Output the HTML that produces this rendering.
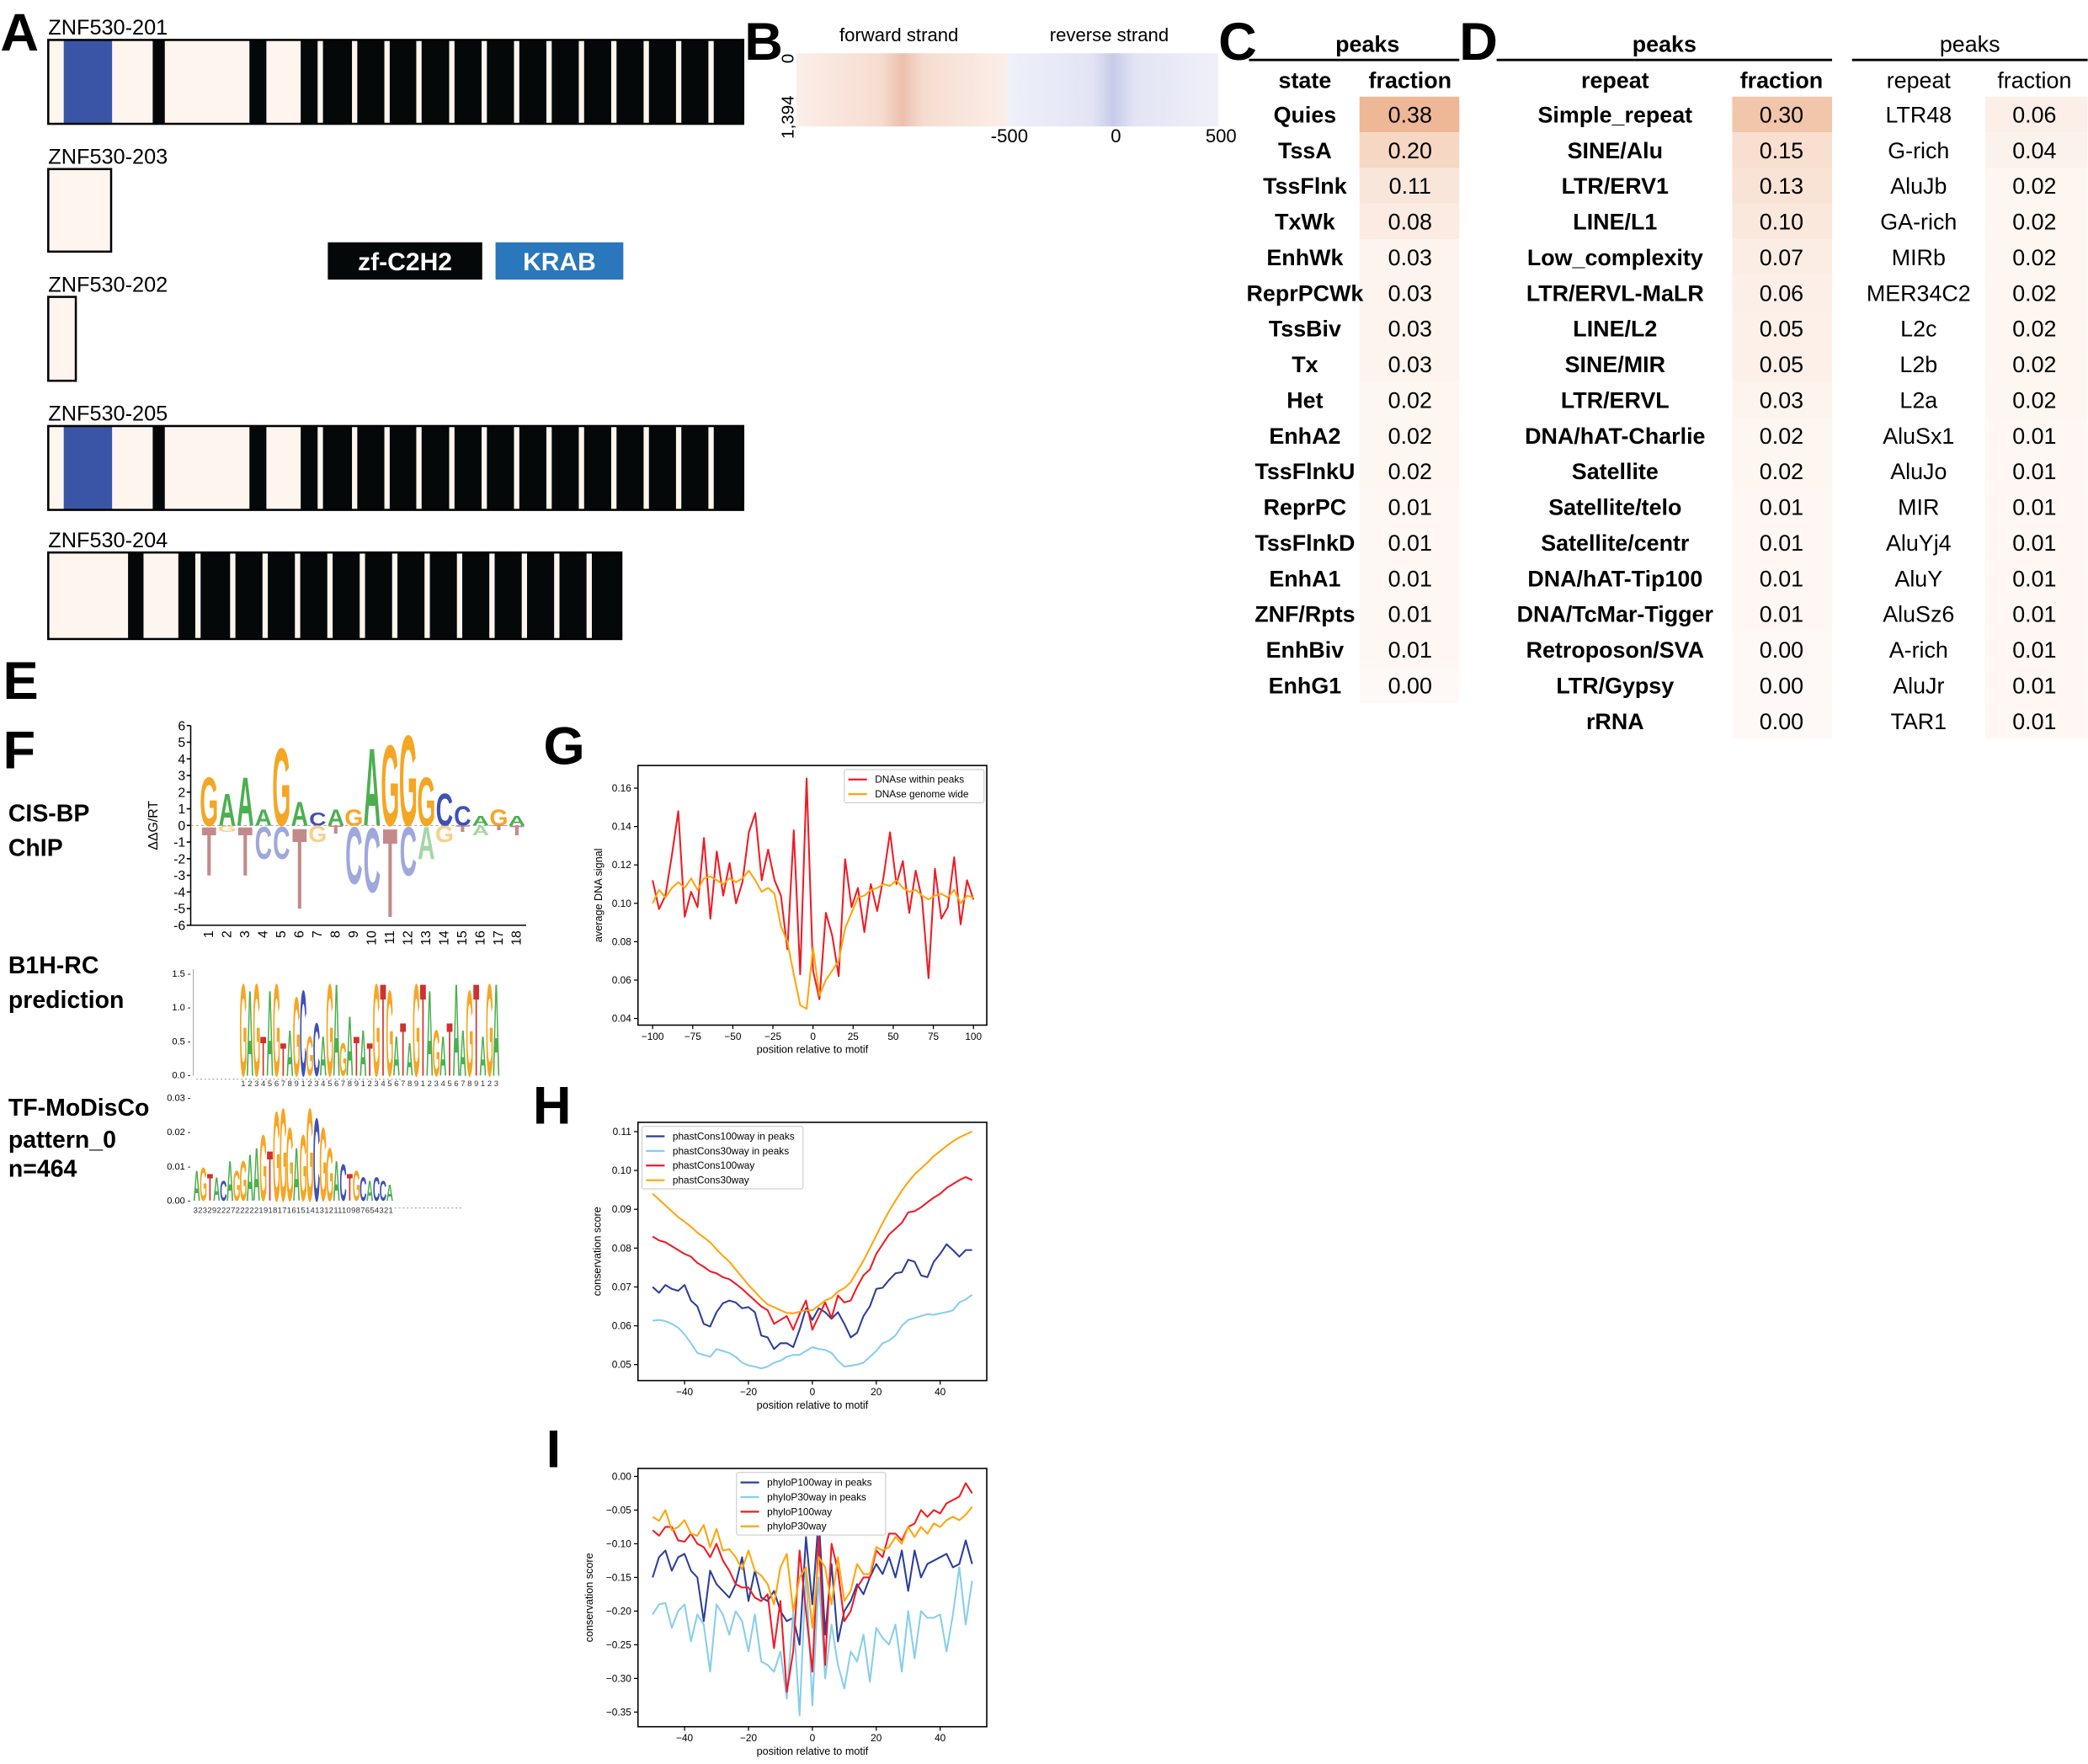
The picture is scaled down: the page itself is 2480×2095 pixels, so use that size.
<!DOCTYPE html>
<html><head><meta charset="utf-8">
<style>
html,body{margin:0;padding:0;background:#fff;}
svg{display:block;font-family:"Liberation Sans","DejaVu Sans",sans-serif;}
</style></head>
<body>
<svg id="fig" width="2480" height="2095" viewBox="0 0 1568 1325" xmlns="http://www.w3.org/2000/svg">
<rect width="1568" height="1325" fill="#fff"/>
<g font-weight="bold" font-size="40" fill="#000">
<text x="0" y="38">A</text><text x="559" y="45">B</text><text x="915" y="45">C</text><text x="1096" y="45">D</text>
<text x="2" y="525">E</text><text x="2" y="577">F</text><text x="408" y="574">G</text><text x="400" y="844">H</text><text x="410" y="1102">I</text>
</g>
<g>
<rect x="246" y="182" width="116" height="28" fill="#050808"/>
<text x="304" y="203" fill="#fff" font-size="19" font-weight="bold" text-anchor="middle">zf-C2H2</text>
<rect x="372" y="182" width="96" height="28" fill="#2a77bb"/>
<text x="420" y="203" fill="#fff" font-size="19" font-weight="bold" text-anchor="middle">KRAB</text>
</g>
<g>
<defs>
<linearGradient id="gf" x1="0" x2="1"><stop offset="0" stop-color="#fbeee8"/><stop offset="0.4" stop-color="#f6dcd0"/><stop offset="0.5" stop-color="#ecc0ac"/><stop offset="0.6" stop-color="#f6dcd0"/><stop offset="1" stop-color="#fbefe9"/></linearGradient>
<linearGradient id="gr" x1="0" x2="1"><stop offset="0" stop-color="#eef0fa"/><stop offset="0.4" stop-color="#e2e4f4"/><stop offset="0.5" stop-color="#c8cbe8"/><stop offset="0.6" stop-color="#e2e4f4"/><stop offset="1" stop-color="#eff0f9"/></linearGradient>
</defs>
<rect x="598" y="40" width="159" height="55" fill="url(#gf)"/>
<rect x="757" y="40" width="158" height="55" fill="url(#gr)"/>
<text x="675" y="31" font-size="14" text-anchor="middle">forward strand</text>
<text x="833" y="31" font-size="14" text-anchor="middle">reverse strand</text>
<text x="758" y="107" font-size="14" text-anchor="middle">-500</text>
<text x="838" y="107" font-size="14" text-anchor="middle">0</text>
<text x="917" y="107" font-size="14" text-anchor="middle">500</text>
<text transform="translate(596,44) rotate(-90)" font-size="13" text-anchor="middle">0</text>
<text transform="translate(596,88) rotate(-90)" font-size="13" text-anchor="middle">1,394</text>
</g>
<g font-weight="bold" font-size="18">
<text x="6" y="617">CIS-BP</text><text x="6" y="643">ChIP</text>
<text x="6" y="731">B1H-RC</text><text x="6" y="757">prediction</text>
<text x="6" y="838">TF-MoDisCo</text><text x="6" y="862">pattern_0</text><text x="6" y="884">n=464</text>
</g>
<g id="layer"></g>
</svg>
<script>
// ---------- Panel A transcripts (segment boundaries in relative units) ----------
var txNames = ['ZNF530-201','ZNF530-203','ZNF530-202','ZNF530-205','ZNF530-204'];
var txStart = [100,100,100,100,100];
var txEnd = [1537,230,157,1537,1285];
var txTop = [30,127,223,320,415];
var txBottom = [93,189,286,383,480];
var txBlue = [[132,232],[],[],[132,232],[]];
var txBlack = [[[316,341],[516,551],[622,1537]],[],[],[[316,341],[516,551],[622,1537]],[[265,297],[369,1285]]];
var txStripes = [[657,728,795,861,929,996,1063,1130,1197,1264,1331,1398,1465],[],[],[657,728,795,861,929,996,1063,1130,1197,1264,1331,1398,1465],[404,476,543,610,677,744,811,878,945,1012,1079,1146,1213]];

// ---------- Tables C/D ----------
var cStates = ['Quies','TssA','TssFlnk','TxWk','EnhWk','ReprPCWk','TssBiv','Tx','Het','EnhA2','TssFlnkU','ReprPC','TssFlnkD','EnhA1','ZNF/Rpts','EnhBiv','EnhG1'];
var cFrac = [0.38,0.20,0.11,0.08,0.03,0.03,0.03,0.03,0.02,0.02,0.02,0.01,0.01,0.01,0.01,0.01,0.00];
var dRepeats = ['Simple_repeat','SINE/Alu','LTR/ERV1','LINE/L1','Low_complexity','LTR/ERVL-MaLR','LINE/L2','SINE/MIR','LTR/ERVL','DNA/hAT-Charlie','Satellite','Satellite/telo','Satellite/centr','DNA/hAT-Tip100','DNA/TcMar-Tigger','Retroposon/SVA','LTR/Gypsy','rRNA'];
var dFrac = [0.30,0.15,0.13,0.10,0.07,0.06,0.05,0.05,0.03,0.02,0.02,0.01,0.01,0.01,0.01,0.00,0.00,0.00];
var eRepeats = ['LTR48','G-rich','AluJb','GA-rich','MIRb','MER34C2','L2c','L2b','L2a','AluSx1','AluJo','MIR','AluYj4','AluY','AluSz6','A-rich','AluJr','TAR1'];
var eFrac = [0.06,0.04,0.02,0.02,0.02,0.02,0.02,0.02,0.02,0.01,0.01,0.01,0.01,0.01,0.01,0.01,0.01,0.01];

// ---------- Panel F logos ----------
var cisPos = ['1','2','3','4','5','6','7','8','9','10','11','12','13','14','15','16','17','18'];
var cisTopL = ['G','A','A','A','G','A','C','A','G','A','G','G','G','C','C','A','G','A'];
var cisTopH = [3,2,3,1,4.8,1.5,0.8,1,1,4.8,5,5.6,3,2,1.2,0.6,1,0.6];
var cisBotL = ['T','G','T','C','C','T','G','T','C','C','T','C','A','G','T','A','T','T'];
var cisBotH = [3,0.4,3,2,2,5,1,0.5,3.5,4,5.5,3,2,1,0.4,0.6,0.3,0.6];
var b1hL = ['G','A','G','T','A','G','T','A','G','C','G','C','A','G','A','G','A','T','A','T','G','T','G','A','T','A','G','T','A','G','A','T','A','A','G','T','A','G','A'];
var b1hH = [1.4,1.3,1.4,0.6,1.3,1.4,0.5,0.7,1.2,1.3,0.6,0.8,0.6,1.4,1.4,0.5,0.9,0.6,0.7,0.5,1.4,1.4,1.3,0.6,0.8,0.5,1.4,1.4,1.3,0.7,0.6,0.8,1.4,0.7,1.3,1.4,0.6,1.4,1.4];
var modL = ['A','G','T','A','C','A','G','G','A','A','G','T','G','G','G','A','G','G','C','G','G','A','C','T','G','C','A','C','C','A'];
var modH = [0.009,0.01,0.008,0.007,0.006,0.012,0.009,0.012,0.014,0.016,0.02,0.015,0.027,0.028,0.022,0.016,0.02,0.028,0.025,0.022,0.016,0.012,0.011,0.008,0.009,0.007,0.006,0.007,0.006,0.005];

// ---------- Panel G ----------
var gX = [-100,-96,-92,-88,-84,-80,-76,-72,-68,-64,-60,-56,-52,-48,-44,-40,-36,-32,-28,-24,-20,-16,-12,-8,-4,0,4,8,12,16,20,24,28,32,36,40,44,48,52,56,60,64,68,72,76,80,84,88,92,96,100];
var gPeaks = [.112,.097,.104,.125,.148,.093,.106,.098,.134,.092,.127,.104,.121,.100,.111,.137,.147,.112,.128,.112,.104,.076,.138,.063,.165,.065,.050,.095,.083,.062,.123,.098,.108,.085,.110,.096,.114,.137,.110,.122,.095,.117,.102,.061,.118,.092,.098,.124,.089,.112,.102];
var gGenome = [.100,.107,.103,.108,.111,.108,.113,.107,.113,.114,.112,.110,.113,.111,.113,.117,.112,.106,.108,.105,.088,.080,.063,.047,.045,.077,.052,.060,.065,.070,.087,.095,.103,.104,.107,.108,.110,.109,.112,.108,.106,.107,.104,.102,.104,.105,.103,.107,.100,.104,.103];
var gYTicks = [0.04,0.06,0.08,0.10,0.12,0.14,0.16];
var gXTicks = [-100,-75,-50,-25,0,25,50,75,100];

// ---------- Panel H / I positions ----------
var hX = [-50,-48,-46,-44,-42,-40,-38,-36,-34,-32,-30,-28,-26,-24,-22,-20,-18,-16,-14,-12,-10,-8,-6,-4,-2,0,2,4,6,8,10,12,14,16,18,20,22,24,26,28,30,32,34,36,38,40,42,44,46,48,50];
var hPc100Peaks = [.070,.0685,.0705,.0695,.069,.0705,.0665,.065,.0605,.0598,.0635,.0658,.0665,.066,.0645,.0648,.0635,.0575,.057,.054,.0555,.0555,.0545,.059,.0645,.0615,.0645,.0635,.0618,.0635,.0605,.057,.0582,.0625,.065,.0695,.0698,.0718,.0735,.0738,.077,.0765,.073,.0725,.0765,.0785,.081,.0795,.0778,.0795,.0795];
var hPc30Peaks = [.0613,.0615,.0612,.0605,.0595,.0578,.0555,.053,.0525,.052,.054,.0535,.053,.052,.0505,.0498,.0495,.049,.0495,.0505,.051,.052,.0525,.0525,.0535,.0545,.054,.0538,.053,.051,.0495,.0497,.050,.0505,.052,.0535,.0555,.0562,.0575,.060,.0615,.062,.0625,.063,.0628,.0632,.0635,.064,.066,.0668,.068];
var hPc100 = [.083,.082,.0815,.0805,.0795,.0785,.0778,.0762,.0752,.074,.0735,.0725,.072,.0708,.0695,.068,.0665,.065,.064,.0605,.0615,.0625,.059,.063,.0665,.059,.0625,.066,.062,.0678,.066,.0665,.070,.073,.0745,.0785,.081,.0835,.085,.0865,.0892,.0895,.0905,.0918,.093,.094,.0955,.0965,.0975,.0983,.0975];
var hPc30 = [.094,.0925,.091,.0895,.088,.0868,.0855,.084,.0828,.0815,.0797,.078,.0765,.0745,.0725,.0705,.0688,.067,.0655,.0648,.064,.0633,.0632,.0636,.064,.064,.0652,.0665,.0672,.0688,.0697,.0712,.074,.0768,.080,.0832,.0865,.0895,.0922,.0948,.097,.099,.1005,.102,.1037,.105,.1063,.1075,.1085,.1093,.110];
var hYTicks = [0.05,0.06,0.07,0.08,0.09,0.10,0.11];
var hXTicks = [-40,-20,0,20,40];
var iP100Peaks = [-.15,-.12,-.11,-.14,-.12,-.115,-.14,-.15,-.215,-.14,-.16,-.17,-.18,-.16,-.12,-.185,-.14,-.18,-.185,-.17,-.2,-.215,-.21,-.25,-.09,-.19,-.06,-.235,-.13,-.245,-.2,-.185,-.16,-.175,-.15,-.13,-.145,-.12,-.15,-.11,-.17,-.11,-.15,-.13,-.125,-.12,-.115,-.135,-.13,-.095,-.13];
var iP30Peaks = [-.205,-.19,-.188,-.225,-.2,-.19,-.245,-.205,-.22,-.29,-.19,-.205,-.235,-.2,-.215,-.26,-.205,-.275,-.28,-.29,-.26,-.33,-.2,-.355,-.14,-.34,-.15,-.3,-.22,-.28,-.315,-.26,-.275,-.235,-.305,-.225,-.24,-.25,-.22,-.29,-.2,-.27,-.2,-.21,-.21,-.205,-.26,-.205,-.135,-.22,-.155];
var iP100 = [-.08,-.088,-.075,-.075,-.095,-.097,-.085,-.1,-.105,-.12,-.1,-.125,-.14,-.16,-.165,-.165,-.18,-.185,-.175,-.255,-.185,-.32,-.26,-.11,-.2,-.29,-.09,-.28,-.1,-.14,-.215,-.2,-.165,-.15,-.15,-.11,-.12,-.085,-.085,-.095,-.075,-.07,-.05,-.06,-.05,-.055,-.04,-.035,-.03,-.01,-.025];
var iP30 = [-.06,-.066,-.05,-.08,-.075,-.065,-.085,-.088,-.072,-.105,-.078,-.11,-.108,-.12,-.138,-.11,-.14,-.147,-.16,-.19,-.135,-.115,-.2,-.15,-.135,-.225,-.12,-.135,-.19,-.12,-.185,-.17,-.13,-.145,-.145,-.105,-.11,-.105,-.09,-.1,-.075,-.09,-.075,-.085,-.07,-.075,-.065,-.06,-.065,-.057,-.045];
var iYTicks = [0,-0.05,-0.10,-0.15,-0.20,-0.25,-0.30,-0.35];

var NS = 'http://www.w3.org/2000/svg';
var layer = document.getElementById('layer');
function mk(tag, attrs, parent){var e=document.createElementNS(NS,tag);for(var k in attrs)e.setAttribute(k,attrs[k]);(parent||layer).appendChild(e);return e;}
function txt(s, attrs, parent){var e=mk('text',attrs,parent);e.textContent=s;return e;}
function fmtMinus(s){return String(s).replace('-','\u2212');}

// ---- Panel A ----
var LIGHT='#fff5ef';
for (var t=0;t<txNames.length;t++){
  var sc=0.3633, x0=36;
  var X=function(z){return x0+(z-100)*sc;};
  var g=mk('g',{});
  
  
  var lab=txt(txNames[t],{x:36,y:txTop[t]-4,'font-size':16},g);
  
  
  var bx=mk('rect',{x:X(txStart[t]),y:txTop[t],width:X(txEnd[t])-X(txStart[t]),height:txBottom[t]-txTop[t],fill:LIGHT},g);
  
  
  for (var b=0;b<txBlue[t].length;b+=2){
    var br=mk('rect',{x:X(txBlue[t][0]),y:txTop[t],width:X(txBlue[t][1])-X(txBlue[t][0]),height:txBottom[t]-txTop[t],fill:'#3b55a6'},g);
    
    
  }
  txBlack[t].forEach(function(s){
    var r=mk('rect',{x:X(s[0]),y:txTop[t],width:X(s[1])-X(s[0]),height:txBottom[t]-txTop[t],fill:'#050808'},g);
    
    
  });
  txStripes[t].forEach(function(s){
    var r=mk('rect',{x:X(s),y:txTop[t],width:11*sc,height:txBottom[t]-txTop[t],fill:LIGHT},g);
    
    
  });
  var ol=mk('rect',{x:X(txStart[t]),y:txTop[t],width:X(txEnd[t])-X(txStart[t]),height:txBottom[t]-txTop[t],fill:'none',stroke:'#000','stroke-width':1.6},g);
  
  
}

// ---- Tables ----
function cellColor(v){var f=Math.min(v/0.38,1);var r=Math.round(254-(254-238)*f),gg=Math.round(249-(249-184)*f),bb=Math.round(246-(246-150)*f);return 'rgb('+r+','+gg+','+bb+')';}
function table(name,labels,vals,lx,cx,cl,cr,ll,lr,head,bold){
  var g=mk('g',{'font-size':17,'font-weight':bold?'bold':'normal'});
  
  
  txt('peaks',{x:(ll+lr)/2+(name==='table-c'?10:0),y:39,'text-anchor':'middle'},g);
  mk('line',{x1:ll,x2:lr,y1:45,y2:45,stroke:'#000','stroke-width':1.8},g);
  txt(head,{x:lx,y:66,'text-anchor':'middle'},g);
  txt('fraction',{x:cx,y:66,'text-anchor':'middle'},g);
  for(var i=0;i<labels.length;i++){
    var yc=86+i*26.8;
    var c=mk('rect',{x:cl,y:yc-13.4,width:cr-cl,height:26.8,fill:cellColor(vals[i])},g);
    
    
    var a=txt(labels[i],{x:lx,y:yc+6,'text-anchor':'middle'},g);
    
    
    var v=txt(vals[i].toFixed(2),{x:cx,y:yc+6,'text-anchor':'middle','font-weight':'normal'},g);
    
    
  }
}
table('table-c',cStates,cFrac,980,1059,1021,1096,938,1096,'state',true);
table('table-d',dRepeats,dFrac,1213,1338,1301,1376,1124,1376,'repeat',true);
table('table-d-right',eRepeats,eFrac,1441,1528,1491,1568,1391,1568,'repeat',false);

// ---- Logos ----
var LC={A:'#4caf50',C:'#3f51b5',G:'#f5a623',T:'#d0312d'};
var LCp={A:'#a5d6a7',C:'#9fa8da',G:'#f9d08a',T:'#c48a8a'};
function letter(g,ch,cx,base,w,h,col){
  if(h<0.5)return;
  var e=txt(ch,{transform:'translate('+cx+','+base+') scale('+(w/7.2)+','+(h/7.2)+')','font-size':10,'font-weight':'bold','text-anchor':'middle',fill:col},g);
  
  
}
(function(){
  var g=mk('g',{});
  
  
  var zero=620,unit=12.5,x0=150,step=13.6;
  mk('line',{x1:143,x2:143,y1:545,y2:695,stroke:'#000','stroke-width':1},g);
  mk('line',{x1:143,x2:395,y1:695,y2:695,stroke:'#000','stroke-width':1},g);
  for(var v=-6;v<=6;v++){mk('line',{x1:140,x2:143,y1:zero-v*unit,y2:zero-v*unit,stroke:'#000'},g);txt(String(v),{x:139,y:zero-v*unit+3.5,'font-size':10,'text-anchor':'end'},g);}
  txt('\u0394\u0394G/RT',{transform:'translate(118,620) rotate(-90)','font-size':10,'text-anchor':'middle'},g);
  mk('line',{x1:143,x2:395,y1:zero,y2:zero,stroke:'#888','stroke-width':0.6,'stroke-dasharray':'2,2'},g);
  for(var i=0;i<cisPos.length;i++){
    var cx=x0+i*step+step/2;
    letter(g,cisTopL[i],cx,zero,step*0.95,cisTopH[i]*unit,LC[cisTopL[i]]);
    letter(g,cisBotL[i],cx,zero+cisBotH[i]*unit,step*0.95,cisBotH[i]*unit,LCp[cisBotL[i]]);
    txt(cisPos[i],{transform:'translate('+(cx+3)+',699) rotate(-90)','font-size':10,'text-anchor':'end'},g);
  }
})();
(function(){
  var g=mk('g',{});
  
  
  var zero=808,unit=51,x0=180,step=5;
  mk('line',{x1:145,x2:145,y1:728,y2:808,stroke:'#999','stroke-width':0.6},g);
  [0,0.5,1.0,1.5].forEach(function(v){txt(v.toFixed(1)+' -',{x:143,y:zero-v*unit+2,'font-size':7,'text-anchor':'end'},g);});
  for(var i=0;i<b1hL.length;i++){
    var cx=x0+i*step+step/2;
    letter(g,b1hL[i],cx,zero,step*1.05,b1hH[i]*unit,LC[b1hL[i]]);
    txt(String((i%9)+1),{x:cx,y:816,'font-size':6,'text-anchor':'middle',fill:'#333'},g);
  }
  txt('- - - - - - - - - - - - - - - - - - - - - - - - - - - - - - - - - - - - - - - - - - - - - - - - - - -',{x:147,y:812,'font-size':5,fill:'#555'},g);
})();
(function(){
  var g=mk('g',{});
  
  
  var zero=902,unit=2567,x0=145,step=5;
  [0,0.01,0.02,0.03].forEach(function(v){txt(v.toFixed(2)+' -',{x:143,y:zero-v*unit+2,'font-size':7,'text-anchor':'end'},g);});
  for(var i=0;i<modL.length;i++){
    var cx=x0+i*step+step/2;
    letter(g,modL[i],cx,zero,step*1.05,modH[i]*unit,LC[modL[i]]);
  }
  txt('3232922272222219181716151413121110987654321',{x:145,y:911,'font-size':6,fill:'#333',textLength:150},g);
  txt('- - - - - - - - - - - - - - - - -',{x:296,y:909,'font-size':5,fill:'#555'},g);
})();

// ---- Line charts ----
function chart(opt){
  var g=mk('g',{});
  
  
  var sx=function(v){return opt.px0+(v-opt.xd[0])/(opt.xd[1]-opt.xd[0])*(opt.px1-opt.px0);};
  var sy=function(v){return opt.py0+(v-opt.yd[0])/(opt.yd[1]-opt.yd[0])*(opt.py1-opt.py0);};
  opt.series.forEach(function(s){
    var d='';
    for(var i=0;i<s.y.length;i++){d+=(i?'L':'M')+sx(opt.x[i]).toFixed(2)+','+sy(s.y[i]).toFixed(2);}
    var p=mk('path',{d:d,fill:'none',stroke:s.c,'stroke-width':1.3,'stroke-linejoin':'round'},g);
    
    
  });
  var fr=mk('rect',{x:opt.box[0],y:opt.box[1],width:opt.box[2]-opt.box[0],height:opt.box[3]-opt.box[1],fill:'none',stroke:'#000','stroke-width':1},g);
  
  
  opt.yt.forEach(function(v){
    var y=sy(v);
    mk('line',{x1:opt.box[0]-3,x2:opt.box[0],y1:y,y2:y,stroke:'#000','stroke-width':0.8},g);
    var t=txt(fmtMinus(v.toFixed(2)),{x:opt.box[0]-5,y:y+2.5,'font-size':7.5,'text-anchor':'end'},g);
    
    
  });
  opt.xt.forEach(function(v){
    var x=sx(v);
    mk('line',{x1:x,x2:x,y1:opt.box[3],y2:opt.box[3]+3,stroke:'#000','stroke-width':0.8},g);
    var t=txt(fmtMinus(v),{x:x,y:opt.box[3]+11,'font-size':7.5,'text-anchor':'middle'},g);
    
    
  });
  var xl=txt('position relative to motif',{x:(opt.box[0]+opt.box[2])/2,y:opt.box[3]+21,'font-size':8,'text-anchor':'middle'},g);
  
  
  var yl=txt(opt.ylab,{transform:'translate('+opt.ylx+','+(opt.box[1]+opt.box[3])/2+') rotate(-90)','font-size':8,'text-anchor':'middle'},g);
  
  
  var L=opt.leg;
  var lb=mk('rect',{x:L[0],y:L[1],width:L[2],height:opt.series.length*11+3,fill:'#fff',stroke:'#ccc','stroke-width':0.7,rx:1.5},g);
  
  
  opt.series.forEach(function(s,i){
    var y=L[1]+7.5+i*11;
    mk('line',{x1:L[0]+3,x2:L[0]+17,y1:y,y2:y,stroke:s.c,'stroke-width':1.4},g);
    var t=txt(s.label,{x:L[0]+23,y:y+2.5,'font-size':7.5},g);
    
    
  });
}
chart({name:'panel-g-dnase-chart',x:gX,xd:[-100,100],px0:490,px1:731,yd:[0.04,0.16],py0:765,py1:592,box:[479,575,741,770],
  yt:gYTicks,xt:gXTicks,ylab:'average DNA signal',ylx:452,leg:[634,578,105],
  series:[{id:'line-dnase-peaks',y:gPeaks,c:'#ee1c25',label:'DNAse within peaks'},{id:'line-dnase-genome',y:gGenome,c:'#ffa50a',label:'DNAse genome wide'}]});
chart({name:'panel-h-phastcons-chart',x:hX,xd:[-50,50],px0:490,px1:730,yd:[0.05,0.11],py0:1025,py1:850,box:[479,843,741,1037],
  yt:hYTicks,xt:hXTicks,ylab:'conservation score',ylx:451,leg:[482,846,121],
  series:[{id:'line-pc100-peaks',y:hPc100Peaks,c:'#2c3e9a',label:'phastCons100way in peaks'},{id:'line-pc30-peaks',y:hPc30Peaks,c:'#87ceeb',label:'phastCons30way in peaks'},{id:'line-pc100',y:hPc100,c:'#ee1c25',label:'phastCons100way'},{id:'line-pc30',y:hPc30,c:'#ffa50a',label:'phastCons30way'}]});
chart({name:'panel-i-phylop-chart',x:hX,xd:[-50,50],px0:490,px1:730,yd:[0,-0.35],py0:1109,py1:1286,box:[479,1103,741,1297],
  yt:iYTicks,xt:hXTicks,ylab:'conservation score',ylx:445,leg:[553,1106,112],
  series:[{id:'line-pp100-peaks',y:iP100Peaks,c:'#2c3e9a',label:'phyloP100way in peaks'},{id:'line-pp30-peaks',y:iP30Peaks,c:'#87ceeb',label:'phyloP30way in peaks'},{id:'line-pp100',y:iP100,c:'#ee1c25',label:'phyloP100way'},{id:'line-pp30',y:iP30,c:'#ffa50a',label:'phyloP30way'}]});
</script>
</body></html>
